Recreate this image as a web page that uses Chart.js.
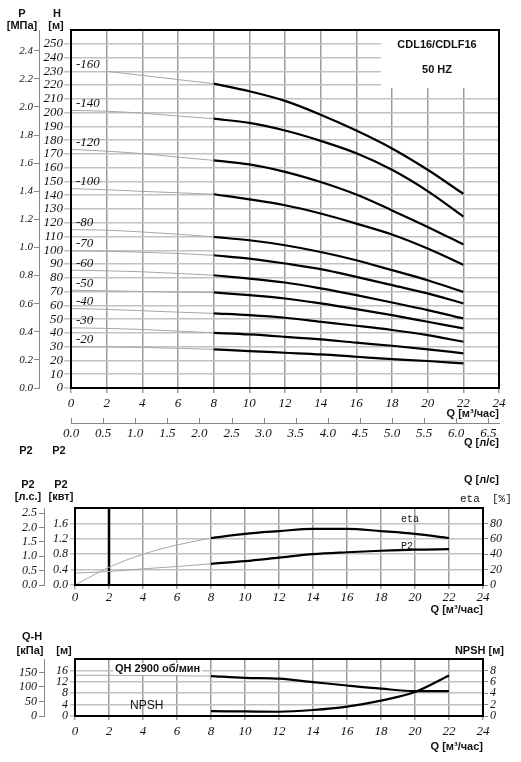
<!DOCTYPE html>
<html><head><meta charset="utf-8">
<script src="https://cdn.jsdelivr.net/npm/chart.js@4.4.1/dist/chart.umd.min.js"></script>
<style>
html,body{margin:0;padding:0;background:#fff;}
body{width:521px;height:762px;position:relative;overflow:hidden;}
canvas{position:absolute;left:0;}
</style></head><body>
<canvas id="c1" width="521" height="460" style="top:0px"></canvas>
<canvas id="c2" width="521" height="160" style="top:460px"></canvas>
<canvas id="c3" width="521" height="142" style="top:620px"></canvas>
<script>
// ---------- data ----------
const Q_POINTS = [0, 2, 4, 6, 8, 10, 12, 14, 16, 18, 20, 22];
const CURVE_LABELS = ['-160', '-140', '-120', '-100', '-80', '-70', '-60', '-50', '-40', '-30', '-20'];
const H_160 = [null, 230, 227, 224, 221, 215.5, 208.5, 198.5, 187, 174, 158.5, 141];
const H_140 = [201.6, 201, 199.6, 197.5, 195.6, 192.5, 187, 179.5, 170.5, 158.5, 143, 124.5];
const H_120 = [173.3, 172, 170.2, 167.7, 165.3, 162.4, 157, 149.6, 140.5, 129, 117, 104.2];
const H_100 = [144.8, 144, 142.8, 141.8, 140.7, 137, 132.7, 126.7, 119.4, 111.5, 101.3, 89.5];
const H_80 = [115, 114.6, 113.3, 111.7, 109.7, 107.3, 103.7, 98.8, 92.8, 85.6, 78.3, 69.8];
const H_70 = [99.6, 99.3, 98.6, 97.7, 96.4, 94, 90.4, 86.3, 80.7, 74.7, 68.7, 61.4];
const H_60 = [85.6, 85.1, 84.4, 83.2, 81.9, 79.5, 76.6, 72.3, 67.4, 62.1, 56.6, 50.5];
const H_50 = [71, 70.6, 70.1, 69.6, 69.4, 67.4, 65, 61.4, 57.3, 52.9, 48.1, 43.3];
const H_40 = [57.8, 57.1, 56.1, 55.1, 54.2, 52.9, 51, 48.1, 45.2, 42.1, 38.4, 33.6];
const H_30 = [43.7, 43.3, 42.5, 41.3, 40.1, 38.9, 37.2, 35.3, 32.9, 30.7, 28.1, 25.2];
const H_20 = [30, 29.8, 29.5, 28.8, 28.1, 26.8, 25.6, 24.4, 22.7, 21, 19.6, 17.9];
const H_CURVES = [H_160, H_140, H_120, H_100, H_80, H_70, H_60, H_50, H_40, H_30, H_20];

const ETA_PCT = [0, 23, 40, 52, 61, 66.5, 70, 73, 73, 70, 66.5, 61];
const P2_KW = [0.31, 0.35, 0.42, 0.48, 0.55, 0.62, 0.71, 0.80, 0.85, 0.89, 0.92, 0.93];
const P2_MARK_Q = [2, 2];
const P2_MARK_KW = [0, 2.0];
const QH_M = [14.3, 14.3, 14.2, 14.1, 14.0, 13.4, 13.1, 11.9, 10.7, 9.6, 8.75, 8.75];
const NPSH_M = [null, null, null, null, 0.85, 0.8, 0.75, 1.05, 1.65, 2.7, 4.2, 7.1];

const Q_TICKS = [0, 2, 4, 6, 8, 10, 12, 14, 16, 18, 20, 22, 24];
const QLS_TICKS = [0, 0.5, 1, 1.5, 2, 2.5, 3, 3.5, 4, 4.5, 5, 5.5, 6, 6.5];
const H_TICKS = [0, 10, 20, 30, 40, 50, 60, 70, 80, 90, 100, 110, 120, 130, 140, 150, 160, 170, 180, 190, 200, 210, 220, 230, 240, 250];
const P_TICKS = [0, 0.2, 0.4, 0.6, 0.8, 1.0, 1.2, 1.4, 1.6, 1.8, 2.0, 2.2, 2.4];
const KW_TICKS = [0, 0.4, 0.8, 1.2, 1.6];
const HP_TICKS = [0, 0.5, 1.0, 1.5, 2.0, 2.5];
const ETA_TICKS = [0, 20, 40, 60, 80];
const M_TICKS = [0, 4, 8, 12, 16];
const KPA_TICKS = [0, 50, 100, 150];
const NPSH_TICKS = [0, 2, 4, 6, 8];

// ---------- helpers ----------
const SERIF = '"Liberation Serif", "Times New Roman", serif';
const SANS = '"Liberation Sans", Arial, sans-serif';
const MONO = '"Liberation Mono", "DejaVu Sans Mono", monospace';
const GRID_V = '#9c9c9c';
const GRID_H = '#c2c2c2';
const GRAY_LINE = '#a6a6a6';
const fSerif = (s) => ({ family: SERIF, size: s, style: 'italic' });
const fTitle = { family: SANS, size: 11, weight: 'bold' };
const setTicks = (arr) => (s) => { s.ticks = arr.map(v => ({ value: v })); };
const pts = (ys, from, to) => Q_POINTS.slice(from, to).map((q, i) => ({ x: q, y: ys[from + i] })).filter(p => p.y !== null);

function txt(ctx, s, x, y, font, align, color) {
  ctx.save();
  ctx.font = font;
  ctx.fillStyle = color || '#111';
  ctx.textAlign = align || 'center';
  ctx.textBaseline = 'middle';
  ctx.fillText(s, x, y);
  ctx.restore();
}
function frame(chart) {
  const a = chart.chartArea, ctx = chart.ctx;
  ctx.save();
  ctx.strokeStyle = '#000';
  ctx.lineWidth = 2;
  ctx.strokeRect(a.left, a.top, a.right - a.left, a.bottom - a.top);
  ctx.restore();
}
function grayDs(ys, axis) {
  return { data: pts(ys, 0, 5), borderColor: GRAY_LINE, borderWidth: 1, pointRadius: 0, tension: 0.4, cubicInterpolationMode: 'monotone', yAxisID: axis };
}
function blackDs(ys, axis) {
  return { data: pts(ys, 4, 12), borderColor: '#000', borderWidth: 2.2, pointRadius: 0, tension: 0.4, cubicInterpolationMode: 'monotone', yAxisID: axis };
}
const baseOpts = {
  responsive: false, animation: false, events: [],
  plugins: { legend: { display: false }, tooltip: { enabled: false } },
};

// ---------- chart 1 : H-Q ----------
const ds1 = [];
H_CURVES.forEach(h => { ds1.push(grayDs(h, 'yH')); ds1.push(blackDs(h, 'yH')); });

new Chart(document.getElementById('c1'), {
  type: 'line',
  data: { datasets: ds1 },
  options: Object.assign({}, baseOpts, {
    layout: { padding: { top: 30, right: 22, left: 0, bottom: 0 } },
    scales: {
      x: {
        type: 'linear', position: 'bottom', min: 0, max: 24, weight: 0,
        afterBuildTicks: setTicks(Q_TICKS), afterFit: s => { s.height = 35; },
        grid: { color: GRID_V, lineWidth: 1.5, tickLength: 5 },
        border: { display: false },
        ticks: { font: fSerif(13), color: '#111', padding: 3, maxRotation: 0, autoSkip: false },
        title: { display: true, text: 'Q [м³/час]', align: 'end', font: fTitle, color: '#111', padding: { top: 0, bottom: 2 } }
      },
      xls: {
        type: 'linear', position: 'bottom', min: 0, max: 24 / 3.6, weight: 1,
        afterBuildTicks: setTicks(QLS_TICKS), afterFit: s => { s.height = 37; },
        grid: { drawOnChartArea: false, drawTicks: false },
        border: { display: true, color: '#888', width: 1 },
        ticks: { font: fSerif(13), color: '#111', padding: 3, maxRotation: 0, autoSkip: false, callback: v => Number(v).toFixed(1) },
        title: { display: true, text: 'Q [л/с]', align: 'end', font: fTitle, color: '#111', padding: { top: 0, bottom: 10 } }
      },
      yH: {
        type: 'linear', position: 'left', min: 0, max: 260, weight: 0,
        afterBuildTicks: setTicks(H_TICKS), afterFit: s => { s.width = 32; },
        grid: { color: GRID_H, lineWidth: 1.5, tickLength: 7 },
        border: { display: false },
        ticks: { font: fSerif(13), color: '#111', padding: 1, autoSkip: false }
      },
      yP: {
        type: 'linear', position: 'left', min: 0, max: 260 * 0.0098, weight: 1,
        afterBuildTicks: setTicks(P_TICKS), afterFit: s => { s.width = 39; },
        grid: { drawOnChartArea: false, tickLength: 5, color: '#888' },
        border: { display: true, color: '#888' },
        ticks: { font: fSerif(11), color: '#111', padding: 1, autoSkip: false, callback: v => Number(v).toFixed(1) }
      }
    }
  }),
  plugins: [{
    id: 'p1',
    beforeDatasetsDraw(chart) {
      const ctx = chart.ctx, a = chart.chartArea;
      ctx.save();
      ctx.fillStyle = '#fff';
      ctx.fillRect(381, a.top, a.right - 381, 58);
      ctx.restore();
    },
    afterDraw(chart) {
      const ctx = chart.ctx;
      const xs = chart.scales.x, ys = chart.scales.yH, xl = chart.scales.xls;
      // upward ticks of the l/s axis
      ctx.save();
      ctx.strokeStyle = '#888'; ctx.lineWidth = 1;
      xl.ticks.forEach(t => {
        const px = Math.round(xl.getPixelForValue(t.value)) + 0.5;
        ctx.beginPath(); ctx.moveTo(px, xl.top); ctx.lineTo(px, xl.top - 5); ctx.stroke();
      });
      ctx.restore();
      frame(chart);
      // curve labels
      H_CURVES.forEach((h, i) => {
        const j = h.findIndex(v => v !== null);
        const y = ys.getPixelForValue(h[j]) - 7;
        txt(ctx, CURVE_LABELS[i], xs.getPixelForValue(0) + 5, y, 'italic 13px ' + SERIF, 'left');
      });
      // headers
      const b = 'bold 11px ' + SANS;
      txt(ctx, 'P', 22, 14, b); txt(ctx, '[МПа]', 22, 26, b);
      txt(ctx, 'H', 57, 14, b); txt(ctx, '[м]', 56, 26, b);
      txt(ctx, 'CDL16/CDLF16', 437, 45, b);
      txt(ctx, '50 HZ', 437, 70, b);
      txt(ctx, 'P2', 26, 451, b); txt(ctx, 'P2', 59, 451, b);
    }
  }]
});

// ---------- chart 2 : P2 / eta ----------
new Chart(document.getElementById('c2'), {
  type: 'line',
  data: {
    datasets: [
      grayDs(ETA_PCT, 'yEta'), blackDs(ETA_PCT, 'yEta'),
      grayDs(P2_KW, 'yKW'), blackDs(P2_KW, 'yKW'),
      { data: P2_MARK_Q.map((q, i) => ({ x: q, y: P2_MARK_KW[i] })), borderColor: '#000', borderWidth: 2.5, pointRadius: 0, yAxisID: 'yKW' }
    ]
  },
  options: Object.assign({}, baseOpts, {
    layout: { padding: { top: 48, right: 0, left: 0, bottom: 0 } },
    scales: {
      x: {
        type: 'linear', position: 'bottom', min: 0, max: 24,
        afterBuildTicks: setTicks(Q_TICKS), afterFit: s => { s.height = 35; },
        grid: { color: GRID_V, lineWidth: 1.5, tickLength: 4 },
        border: { display: false },
        ticks: { font: fSerif(13), color: '#111', padding: 1, maxRotation: 0, autoSkip: false },
        title: { display: true, text: 'Q [м³/час]', align: 'end', font: fTitle, color: '#111', padding: { top: 0, bottom: 3 } }
      },
      yKW: {
        type: 'linear', position: 'left', min: 0, max: 2.0, weight: 0,
        afterBuildTicks: setTicks(KW_TICKS), afterFit: s => { s.width = 31; },
        grid: { color: GRID_H, lineWidth: 1.5, tickLength: 5 },
        border: { display: false },
        ticks: { font: fSerif(12), color: '#111', padding: 2, autoSkip: false, callback: v => Number(v).toFixed(1) }
      },
      yHP: {
        type: 'linear', position: 'left', min: 0, max: 2.0 / 0.7457, weight: 1,
        afterBuildTicks: setTicks(HP_TICKS), afterFit: s => { s.width = 44; },
        grid: { drawOnChartArea: false, tickLength: 5, color: '#888' },
        border: { display: true, color: '#888' },
        ticks: { font: fSerif(12), color: '#111', padding: 2, autoSkip: false, callback: v => Number(v).toFixed(1) }
      },
      yEta: {
        type: 'linear', position: 'right', min: 0, max: 100,
        afterBuildTicks: setTicks(ETA_TICKS), afterFit: s => { s.width = 38; },
        grid: { drawOnChartArea: false, tickLength: 5, color: '#888' },
        border: { display: false },
        ticks: { font: fSerif(12), color: '#111', padding: 2, autoSkip: false }
      }
    }
  }),
  plugins: [{
    id: 'p2',
    afterDraw(chart) {
      const ctx = chart.ctx;
      frame(chart);
      const b = 'bold 11px ' + SANS;
      txt(ctx, 'P2', 28, 25, b); txt(ctx, '[л.с.]', 28, 37, b);
      txt(ctx, 'P2', 61, 25, b); txt(ctx, '[квт]', 61, 37, b);
      txt(ctx, 'Q [л/с]', 499, 20, b, 'right');
      txt(ctx, 'eta', 460, 39, '11px ' + MONO, 'left');
      txt(ctx, '[%]', 492, 39, '11px ' + MONO, 'left');
      txt(ctx, 'eta', 401, 59, '10px ' + MONO, 'left');
      txt(ctx, 'P2', 401, 86, '10px ' + MONO, 'left');
    }
  }]
});

// ---------- chart 3 : QH / NPSH ----------
new Chart(document.getElementById('c3'), {
  type: 'line',
  data: {
    datasets: [
      grayDs(QH_M, 'yM'), blackDs(QH_M, 'yM'),
      blackDs(NPSH_M, 'yN')
    ]
  },
  options: Object.assign({}, baseOpts, {
    layout: { padding: { top: 39, right: 0, left: 0, bottom: 0 } },
    scales: {
      x: {
        type: 'linear', position: 'bottom', min: 0, max: 24,
        afterBuildTicks: setTicks(Q_TICKS), afterFit: s => { s.height = 46; },
        grid: { color: GRID_V, lineWidth: 1.5, tickLength: 4 },
        border: { display: false },
        ticks: { font: fSerif(13), color: '#111', padding: 4, maxRotation: 0, autoSkip: false },
        title: { display: true, text: 'Q [м³/час]', align: 'end', font: fTitle, color: '#111', padding: { top: 0, bottom: 8 } }
      },
      yM: {
        type: 'linear', position: 'left', min: 0, max: 20, weight: 0,
        afterBuildTicks: setTicks(M_TICKS), afterFit: s => { s.width = 31; },
        grid: { color: GRID_H, lineWidth: 1.5, tickLength: 5 },
        border: { display: false },
        ticks: { font: fSerif(12), color: '#111', padding: 2, autoSkip: false }
      },
      yKPa: {
        type: 'linear', position: 'left', min: 0, max: 20 * 9.8, weight: 1,
        afterBuildTicks: setTicks(KPA_TICKS), afterFit: s => { s.width = 44; },
        grid: { drawOnChartArea: false, tickLength: 5, color: '#888' },
        border: { display: true, color: '#888' },
        ticks: { font: fSerif(12), color: '#111', padding: 2, autoSkip: false }
      },
      yN: {
        type: 'linear', position: 'right', min: 0, max: 10,
        afterBuildTicks: setTicks(NPSH_TICKS), afterFit: s => { s.width = 38; },
        grid: { drawOnChartArea: false, tickLength: 5, color: '#888' },
        border: { display: false },
        ticks: { font: fSerif(12), color: '#111', padding: 2, autoSkip: false }
      }
    }
  }),
  plugins: [{
    id: 'p3',
    afterDraw(chart) {
      const ctx = chart.ctx;
      frame(chart);
      const b = 'bold 11px ' + SANS;
      txt(ctx, 'Q-H', 32, 17, b); txt(ctx, '[кПа]', 30, 31, b);
      txt(ctx, '[м]', 64, 31, b);
      txt(ctx, 'NPSH [м]', 504, 31, b, 'right');
      ctx.save();
      ctx.font = b;
      const w = ctx.measureText('QH 2900 об/мин').width;
      ctx.fillStyle = '#fff';
      ctx.fillRect(113, 43, w + 4, 12);
      ctx.restore();
      txt(ctx, 'QH 2900 об/мин', 115, 49, b, 'left');
      txt(ctx, 'NPSH', 130, 86, '12px ' + SANS, 'left');
    }
  }]
});
</script>
</body></html>
